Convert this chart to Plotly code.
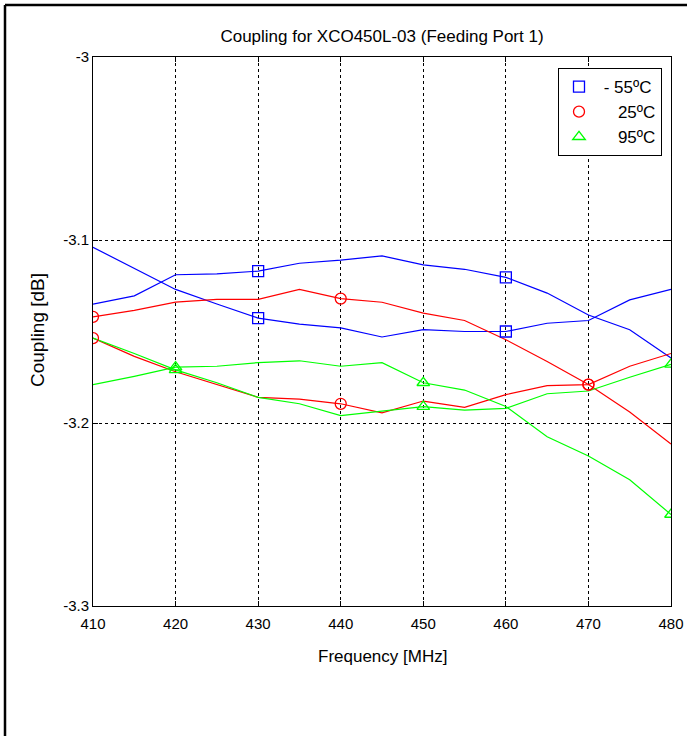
import plotly.graph_objects as go

# ---- data ----
freq = [410, 415, 420, 425, 430, 435, 440, 445, 450, 455, 460, 465, 470, 475, 480]

m55_a = [-3.104, -3.1155, -3.127, -3.135, -3.1427, -3.146, -3.148, -3.153, -3.149, -3.150,
         -3.150, -3.1455, -3.144, -3.1327, -3.127]
m55_b = [-3.135, -3.1305, -3.119, -3.1185, -3.117, -3.1127, -3.111, -3.1087, -3.1136, -3.116,
         -3.1204, -3.129, -3.141, -3.149, -3.1645]
p25_a = [-3.142, -3.1385, -3.134, -3.1324, -3.1324, -3.127, -3.132, -3.134, -3.140, -3.144,
         -3.1545, -3.1664, -3.179, -3.194, -3.2115]
p25_b = [-3.1536, -3.1636, -3.172, -3.179, -3.186, -3.187, -3.1895, -3.1945, -3.188, -3.1915,
         -3.1845, -3.1796, -3.179, -3.169, -3.162]
p95_a = [-3.179, -3.1745, -3.1695, -3.169, -3.167, -3.166, -3.169, -3.167, -3.178, -3.182,
         -3.191, -3.2075, -3.218, -3.231, -3.250]
p95_b = [-3.1536, -3.162, -3.171, -3.178, -3.186, -3.1895, -3.196, -3.1936, -3.191, -3.193,
         -3.192, -3.184, -3.1825, -3.175, -3.168]

marker_freq_m55 = [430, 460]
marker_freq_p25 = [410, 440, 470]
marker_freq_p95 = [420, 450, 480]

labels = ["\u00a0- 55ºC", "\u00a0\u00a0\u00a0\u00a025ºC", "\u00a0\u00a0\u00a0\u00a095ºC"]
x_ticks = [410, 420, 430, 440, 450, 460, 470, 480]
y_ticks = [-3.3, -3.2, -3.1, -3.0]
y_tick_text = ["-3.3", "-3.2", "-3.1", "-3"]

FONT = "Liberation Sans, Arial, sans-serif"

series = [
    (m55_a, m55_b, marker_freq_m55, "#0000ff", "square-open", labels[0]),
    (p25_a, p25_b, marker_freq_p25, "#ff0000", "circle-open", labels[1]),
    (p95_a, p95_b, marker_freq_p95, "#00ff00", "triangle-up-open", labels[2]),
]

fig = go.Figure()
for a, b, mf, col, sym, name in series:
    for s in (a, b):
        fig.add_trace(go.Scatter(x=freq, y=s, mode="lines",
                                 line=dict(color=col, width=1.2),
                                 showlegend=False, hoverinfo="skip"))
for a, b, mf, col, sym, name in series:
    mx, my = [], []
    for s in (a, b):
        for f in mf:
            mx.append(f)
            my.append(s[freq.index(f)])
    fig.add_trace(go.Scatter(x=mx, y=my, mode="markers", name=name,
                             marker=dict(symbol=sym, size=11, color=col,
                                         line=dict(color=col, width=1.3))))

L, R, T, B = 93, 671, 57, 606
W, H = 687, 736
pw, ph = R - L, B - T

def px(xp):
    return (xp - L) / pw

def py(yp):
    return (B - yp) / ph

fig.update_layout(
    width=W, height=H,
    margin=dict(l=L, r=W - R, t=T, b=H - B, autoexpand=False),
    paper_bgcolor="white", plot_bgcolor="white",
    font=dict(family=FONT, size=15, color="black"),
    title=dict(text="Coupling for XCO450L-03 (Feeding Port 1)", x=px(382), xref="paper",
               xanchor="center", y=1 - 36 / H, yanchor="middle",
               font=dict(family=FONT, size=17, color="black")),
    showlegend=True,
    legend=dict(x=px(662), y=py(68), xanchor="right", yanchor="top",
                bgcolor="white", bordercolor="black", borderwidth=1,
                font=dict(family=FONT, size=17, color="black"),
                itemwidth=30, tracegroupgap=0),
    xaxis=dict(range=[410, 480], tickvals=x_ticks, ticks="inside", ticklen=5,
               tickcolor="black", showline=True, linecolor="black", linewidth=1,
               mirror="ticks", showgrid=True, gridcolor="black", gridwidth=1,
               griddash="3px,3px", zeroline=False, ticklabelstandoff=4,
               tickfont=dict(family=FONT, size=15)),
    yaxis=dict(range=[-3.3, -3.0], tickvals=y_ticks, ticktext=y_tick_text,
               ticks="inside", ticklen=5, tickcolor="black", showline=True,
               linecolor="black", linewidth=1, mirror="ticks", showgrid=True,
               gridcolor="black", gridwidth=1, griddash="3px,3px", zeroline=False,
               tickfont=dict(family=FONT, size=15)),
    annotations=[
        dict(text="Frequency [MHz]", x=px(382), y=py(656), xref="paper", yref="paper",
             showarrow=False, xanchor="center", yanchor="middle",
             font=dict(family=FONT, size=17)),
        dict(text="Coupling [dB]", x=px(37), y=py(330), xref="paper", yref="paper",
             showarrow=False, xanchor="center", yanchor="middle", textangle=-90,
             font=dict(family=FONT, size=19)),
    ],
    shapes=[
        dict(type="line", xref="paper", yref="paper", x0=px(5), x1=px(700),
             y0=py(5), y1=py(5), line=dict(color="black", width=2.5)),
        dict(type="line", xref="paper", yref="paper", x0=px(5), x1=px(5),
             y0=py(5), y1=py(750), line=dict(color="black", width=2.5)),
    ],
)

fig.write_html("out.html", config={"displayModeBar": False},
               post_script="document.body.style.margin='0';document.body.style.overflow='hidden';")
